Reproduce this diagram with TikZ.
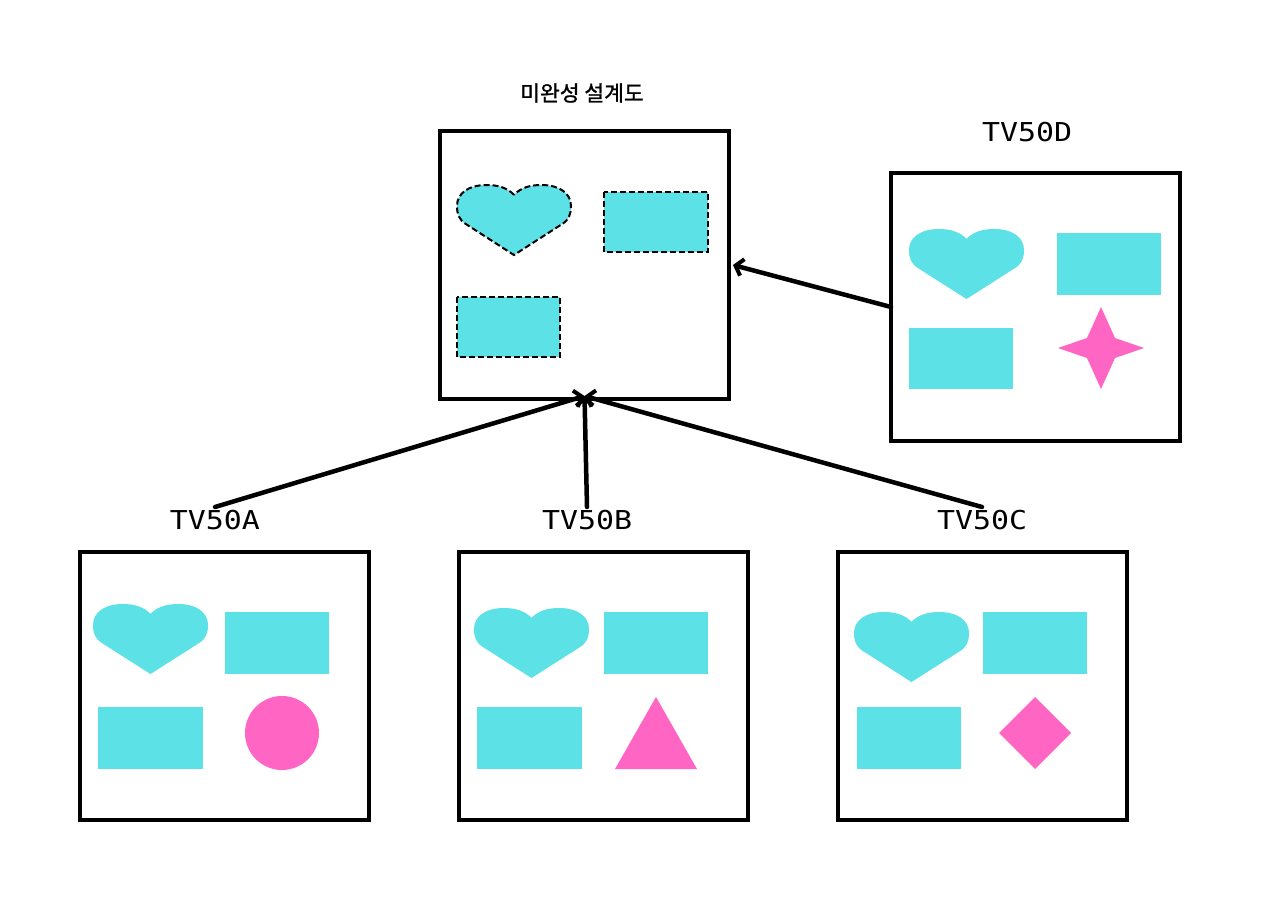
\documentclass[tikz,border=0pt]{standalone}
\usepackage{fontspec}
\newfontfamily\lblfont[FakeStretch=1.15]{DejaVu Sans Mono}
\newfontfamily\kr[FakeBold=1.2]{Noto Sans CJK KR}
\usetikzlibrary{arrows.meta}
\definecolor{cy}{HTML}{5CE1E6}
\definecolor{pk}{HTML}{FF66C4}
\begin{document}
\begin{tikzpicture}[x=1pt,y=-1pt,
  box/.style={draw=black, line width=4pt, minimum width=289pt, minimum height=268pt, anchor=north west, inner sep=0pt, outer sep=0pt},
  lbl/.style={font=\lblfont\fontsize{26}{26}\selectfont, inner sep=0pt},
  arr/.style={line width=4.5pt, line cap=round, -{Straight Barb[length=7pt,width=17pt,line width=4pt]}},
  dsh/.style={draw=black, line width=2pt, dash pattern=on 6pt off 3pt},
  heart/.pic={\path[pic actions] (0.5,0.14) .. controls (0.44,0.04) and (0.36,0) .. (0.26,0)
     .. controls (0.1,0) and (0,0.12) .. (0,0.3)
     .. controls (0,0.42) and (0.02,0.5) .. (0.08,0.56) -- (0.5,1) -- (0.92,0.56)
     .. controls (0.98,0.5) and (1,0.42) .. (1,0.3)
     .. controls (1,0.12) and (0.9,0) .. (0.74,0)
     .. controls (0.64,0) and (0.56,0.04) .. (0.5,0.14) -- cycle;}
]
\useasboundingbox[fill=white] (0,0) rectangle (1270,916);

% title and labels
\node[font=\kr\fontsize{21.5}{22}\selectfont] (title) at (582,93) {미완성 설계도};
\node[lbl] (lD) at (1027,132) {TV50D};
\node[lbl] (lA) at (215,520) {TV50A};
\node[lbl] (lB) at (587,520) {TV50B};
\node[lbl] (lC) at (982,520) {TV50C};

% boxes
\node[box] (main) at (440,131) {};
\node[box] (bD) at (891,173) {};
\node[box] (bA) at (80,552) {};
\node[box] (bB) at (459,552) {};
\node[box] (bC) at (838,552) {};

% main contents (dashed)
\pic[fill=cy, dsh, xscale=114, yscale=70] at (457,185) {heart};
\path[fill=cy, dsh] (604,192) rectangle (708,252);
\path[fill=cy, dsh] (457,297) rectangle (560,357);

% TV50D contents
\pic[fill=cy, xscale=115, yscale=70] at (909,229) {heart};
\fill[cy] (1057,233) rectangle (1161,295);
\fill[cy] (909,328) rectangle (1013,389);
\fill[pk] (1101,307) -- (1115,338) -- (1144,348) -- (1115,358) -- (1101,389) -- (1087,358) -- (1058,348) -- (1087,338) -- cycle;

% TV50A contents
\pic[fill=cy, xscale=115, yscale=70] at (93,604) {heart};
\fill[cy] (225,612) rectangle (329,674);
\fill[cy] (98,707) rectangle (203,769);
\fill[pk] (282,733) circle[radius=37];

% TV50B contents
\pic[fill=cy, xscale=115, yscale=70] at (474,608) {heart};
\fill[cy] (604,612) rectangle (708,674);
\fill[cy] (477,707) rectangle (582,769);
\fill[pk] (656,697) -- (697,769) -- (615,769) -- cycle;

% TV50C contents
\pic[fill=cy, xscale=115, yscale=70] at (854,612) {heart};
\fill[cy] (983,612) rectangle (1087,674);
\fill[cy] (857,707) rectangle (961,769);
\fill[pk] (1035,697) -- (1071,733) -- (1035,769) -- (999,733) -- cycle;

% arrows
\coordinate (sA) at (215,507);
\coordinate (sB) at (587,507);
\coordinate (sC) at (982,507);
\coordinate (tS) at ([yshift=3pt]main.south);
\coordinate (tE) at ([xshift=4pt]main.east);
\draw[arr] (sA) -- (tS);
\draw[arr] (sB) -- (tS);
\draw[arr] (sC) -- (tS);
\draw[arr] (bD.west) -- (tE);
\end{tikzpicture}
\end{document}
